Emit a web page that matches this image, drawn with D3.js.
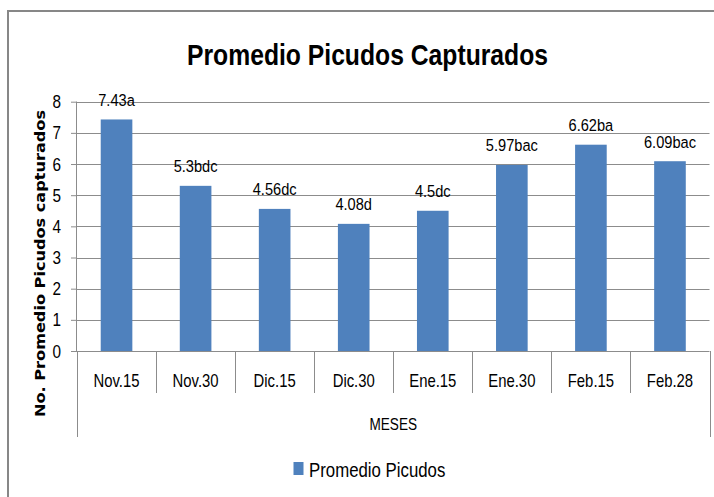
<!DOCTYPE html>
<html><head><meta charset="utf-8">
<script src="https://cdn.jsdelivr.net/npm/d3@7"></script>
<style>
html,body{margin:0;padding:0;background:#fff;overflow:hidden;}
text{font-family:"Liberation Sans",Arial,sans-serif;fill:#000;}
</style></head>
<body><svg id="c" width="714" height="497"></svg>
<script>
const categories = ["Nov.15","Nov.30","Dic.15","Dic.30","Ene.15","Ene.30","Feb.15","Feb.28"];
const values = [7.43,5.3,4.56,4.08,4.5,5.97,6.62,6.09];
const labels = ["7.43a","5.3bdc","4.56dc","4.08d","4.5dc","5.97bac","6.62ba","6.09bac"];
const yTicks = [0,1,2,3,4,5,6,7,8];
const title = "Promedio Picudos Capturados";
const yTitle = "No. Promedio Picudos capturados";
const xTitle = "MESES";
const seriesName = "Promedio Picudos";

const svg = d3.select("#c");
const W=714,H=497;
svg.append("rect").attr("x",0).attr("y",0).attr("width",W).attr("height",H).attr("fill","#fff");
svg.append("rect").attr("x",8).attr("y",11).attr("width",W+20).attr("height",H+20)
  .attr("fill","none").attr("stroke","#878787").attr("stroke-width",2);

function txt(parent, x, y, s, size, sx, anchor, weight){
  const g = parent.append("g").attr("transform",`translate(${x},${y}) scale(${sx},1)`);
  return g.append("text").attr("x",0).attr("y",0).attr("text-anchor",anchor||"middle")
    .attr("font-size",size).attr("font-weight",weight||"normal").text(s);
}

const L=77, R=709.5, T=101.7, B=351;
const x = d3.scaleBand().domain(categories).range([L,R]).paddingInner(0).paddingOuter(0);
const y = d3.scaleLinear().domain([0,8]).range([B,T]);

// gridlines
svg.append("g").selectAll("line").data(yTicks.filter(d=>d>0)).join("line")
  .attr("x1",L).attr("x2",R).attr("y1",d=>Math.round(y(d))+0.5).attr("y2",d=>Math.round(y(d))+0.5)
  .attr("stroke","#8c8c8c").attr("stroke-width",1);

// y axis
const ya = svg.append("g").attr("transform",`translate(${L},0)`)
  .call(d3.axisLeft(y).tickValues(yTicks).tickSize(6).tickPadding(9).tickFormat(d3.format("d")));
ya.select(".domain").attr("stroke","#8c8c8c").attr("d",`M-0.5,${T}V${B}`);
ya.selectAll(".tick line").attr("stroke","#8c8c8c");
ya.selectAll(".tick text").remove();
yTicks.forEach(t=>{ txt(svg, 61, y(t)+6.5, String(t), 18, 0.85, "end"); });

// bars
const bw = x.bandwidth()*0.4;
svg.append("g").selectAll("rect").data(values).join("rect")
  .attr("x",(d,i)=>x(categories[i])+x.bandwidth()/2-bw/2)
  .attr("width",bw)
  .attr("y",d=>y(d)).attr("height",d=>B-y(d))
  .attr("fill","#4F81BD");

// value labels
const vl = svg.append("g");
values.forEach((d,i)=>{
  txt(vl, x(categories[i])+x.bandwidth()/2, y(d)-13.5, labels[i], 17, 0.86);
});

// x axis line & category dividers
const g = svg.append("g");
g.append("line").attr("x1",71).attr("x2",R).attr("y1",B+0.5).attr("y2",B+0.5).attr("stroke","#8c8c8c");
const edges = categories.map(c=>x(c)).concat([R]);
g.selectAll("line.div").data(edges).join("line").attr("class","div")
  .attr("x1",d=>Math.round(d)+0.5).attr("x2",d=>Math.round(d)+0.5).attr("y1",B)
  .attr("y2",(d,i)=> (i===0||i===edges.length-1)?437:393)
  .attr("stroke","#8c8c8c");
categories.forEach(c=>{
  txt(g, x(c)+x.bandwidth()/2, 386.5, c, 17.5, 0.85);
});
txt(svg, (L+R)/2, 430, xTitle, 17, 0.8);

// title
svg.append("text").attr("x",367.5).attr("y",64.5).attr("text-anchor","middle")
  .attr("font-size",30).attr("font-weight","bold")
  .attr("textLength",361).attr("lengthAdjust","spacingAndGlyphs").text(title);

// y title
svg.append("text").attr("transform","translate(45,263.5) rotate(-90)")
  .attr("text-anchor","middle").attr("font-size",14).attr("font-weight","bold")
  .attr("textLength",307).attr("lengthAdjust","spacingAndGlyphs")
  .style("font-family","DejaVu Sans, Verdana, sans-serif").text(yTitle);

// legend
svg.append("rect").attr("x",293.5).attr("y",462).attr("width",10).attr("height",13).attr("fill","#4F81BD");
txt(svg, 309, 476.5, seriesName, 20.5, 0.82, "start");
</script></body></html>
